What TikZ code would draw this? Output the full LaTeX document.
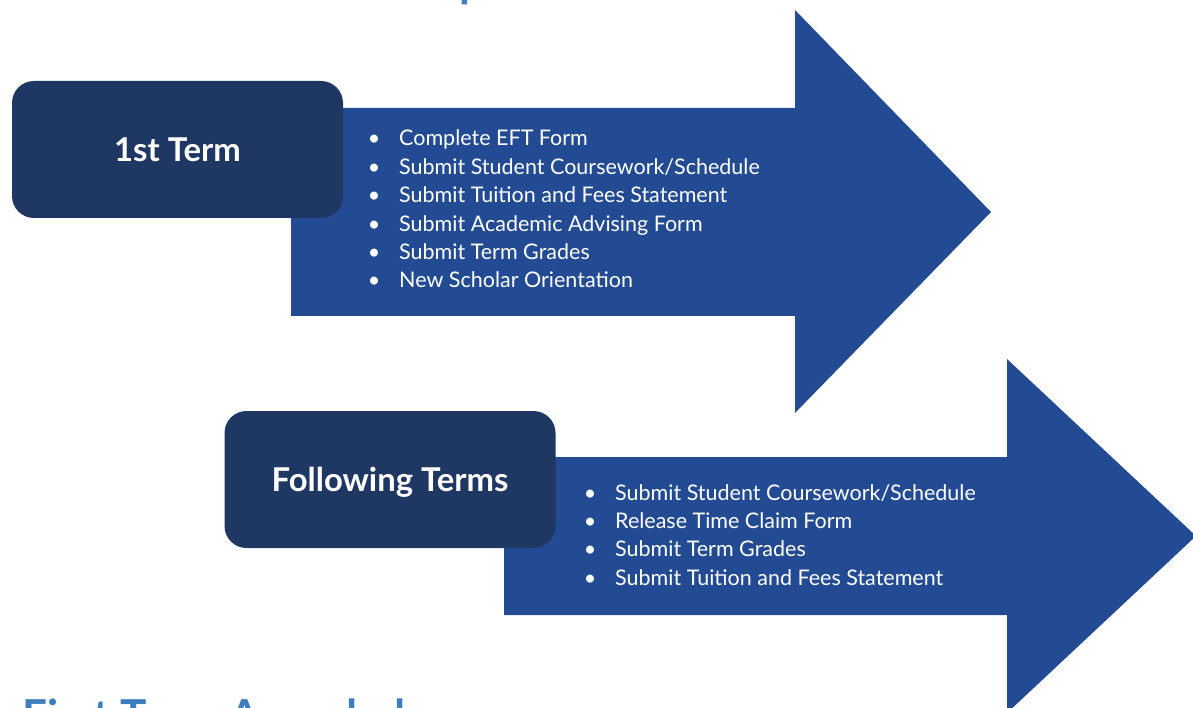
\documentclass[tikz,border=0pt]{standalone}
\usepackage{fontspec}
\setmainfont{Lato}
\definecolor{termnavy}{HTML}{1F3763}
\definecolor{arrowblue}{HTML}{234B94}
\definecolor{headblue}{HTML}{3E7DC0}
\newcommand\itembullet{\makebox[0pt]{\textbullet}\hspace{25pt}}
\begin{document}
\begin{tikzpicture}[x=1pt,y=-1pt,
    termbox/.style={fill=termnavy, rounded corners=22pt, minimum width=331pt, minimum height=137pt,
      text=white, font=\fontsize{32.8}{38}\selectfont\bfseries, text depth=0pt},
    todolist/.style={anchor=base west, inner sep=0pt, text=white,
      font=\fontsize{21.5}{28.4}\selectfont},
    heading/.style={anchor=base west, inner sep=0pt, text=headblue,
      font=\fontsize{44}{50}\selectfont\bfseries}]
  \useasboundingbox (0,0) rectangle (1193,708);
  \clip (0,0) rectangle (1193,708);
  % headings cut by the page
  \node[heading] (toptitle) at (459.5,-2) {p};
  \node[heading] (awardtitle) at (22,731) {First Term Awarded};
  % arrows
  \fill[arrowblue] (291,108) -- (795,108) -- (795,10) -- (991,212) -- (795,413) -- (795,316) -- (291,316) -- cycle;
  \fill[arrowblue] (504,457) -- (1007,457) -- (1007,359) -- (1196,536) -- (1007,713) -- (1007,615) -- (504,615) -- cycle;
  % term boxes
  \node[termbox] (firstterm) at (177.5,149.5) {1st Term};
  \node[termbox] (laterterms) at (390,479.5) {Following Terms};
  % task lists
  \node[todolist] (firstlist) at (374,146) {\begin{tabular}[t]{@{}l@{}}
    \itembullet Complete EFT Form\\
    \itembullet Submit Student Coursework/Schedule\\
    \itembullet Submit Tuition and Fees Statement\\
    \itembullet Submit Academic Advising Form\\
    \itembullet Submit Term Grades\\
    \itembullet New Scholar Orientation
  \end{tabular}};
  \node[todolist] (laterlist) at (590,500) {\begin{tabular}[t]{@{}l@{}}
    \itembullet Submit Student Coursework/Schedule\\
    \itembullet Release Time Claim Form\\
    \itembullet Submit Term Grades\\
    \itembullet Submit Tuition and Fees Statement
  \end{tabular}};
\end{tikzpicture}
\end{document}
